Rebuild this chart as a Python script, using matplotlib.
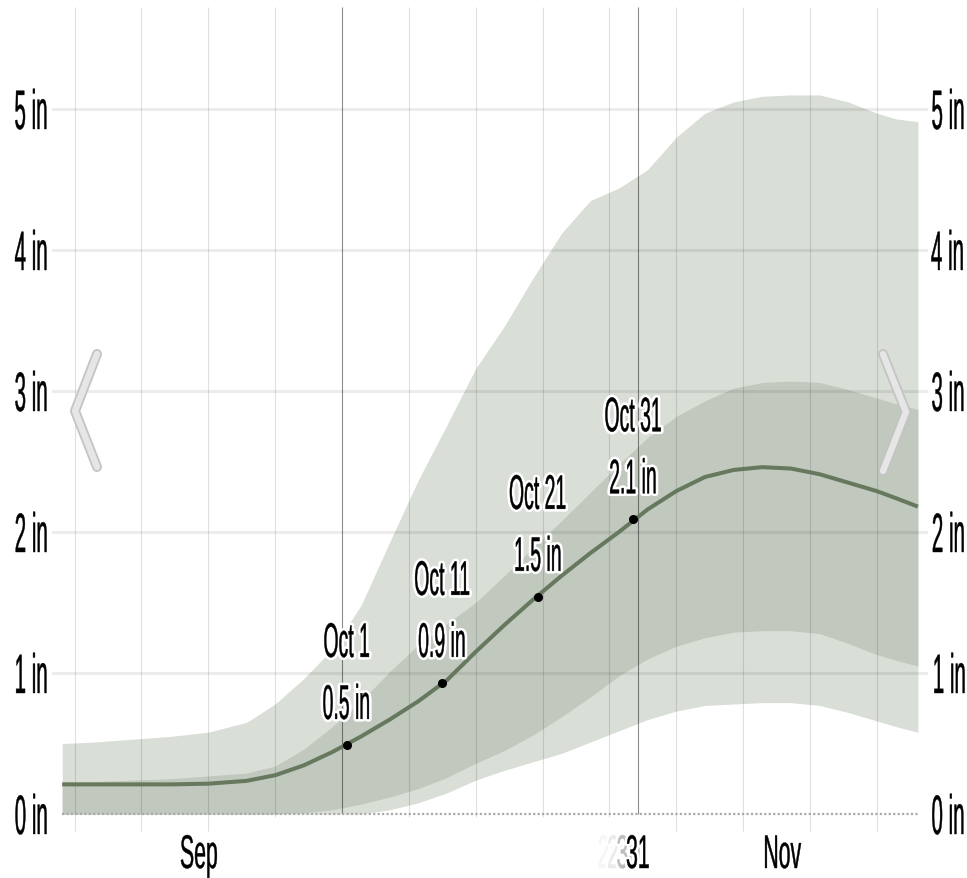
import matplotlib
matplotlib.use('Agg')
import matplotlib.pyplot as plt
from matplotlib.patheffects import AbstractPathEffect
from matplotlib.transforms import Affine2D
from matplotlib.colors import to_rgba
from matplotlib.lines import Line2D

plt.rcParams['font.family'] = ['Liberation Sans', 'DejaVu Sans']

# day offsets counted from the start of Oct 1, rainfall in inches (31-day sliding sum)
days = [-29.3, -26, -22, -18, -14, -10, -7, -4, -1, 2, 5, 8, 11, 14, 17,
        20, 23, 26, 29, 32, 35, 38, 41, 44, 47, 50, 53, 56, 58, 60.3]
p90 = [0.50, 0.51, 0.53, 0.55, 0.58, 0.65, 0.78, 0.96, 1.17, 1.48, 1.93, 2.37, 2.76, 3.16, 3.46,
       3.80, 4.12, 4.35, 4.44, 4.57, 4.80, 4.97, 5.05, 5.09, 5.10, 5.10, 5.05, 4.97, 4.93, 4.91]
p75 = [0.23, 0.23, 0.24, 0.25, 0.27, 0.29, 0.34, 0.46, 0.62, 0.80, 1.01, 1.20, 1.35, 1.50, 1.69,
       1.89, 2.08, 2.28, 2.48, 2.67, 2.82, 2.93, 3.02, 3.06, 3.07, 3.06, 3.01, 2.95, 2.91, 2.87]
median = [0.21, 0.21, 0.21, 0.21, 0.215, 0.235, 0.275, 0.345, 0.44, 0.55, 0.67, 0.80, 0.95, 1.15, 1.34,
          1.52, 1.69, 1.85, 2.00, 2.16, 2.29, 2.39, 2.44, 2.46, 2.45, 2.41, 2.35, 2.29, 2.24, 2.18]
p25 = [0, 0, 0, 0, 0, 0, 0, 0.01, 0.03, 0.07, 0.12, 0.18, 0.26, 0.36, 0.45,
       0.56, 0.69, 0.83, 0.98, 1.10, 1.19, 1.25, 1.29, 1.30, 1.30, 1.28, 1.21, 1.13, 1.09, 1.05]
p10 = [0, 0, 0, 0, 0, 0, 0, 0, 0, 0, 0.03, 0.08, 0.15, 0.24, 0.31,
       0.37, 0.43, 0.51, 0.59, 0.67, 0.73, 0.77, 0.78, 0.79, 0.79, 0.77, 0.72, 0.66, 0.62, 0.58]

ann_days = [0.5, 10.5, 20.5, 30.5]
ann_vals = [0.49, 0.93, 1.54, 2.09]
ann_dates = ['Oct 1', 'Oct 11', 'Oct 21', 'Oct 31']

y_ticks = [0, 1, 2, 3, 4, 5]
x_label_pos = [-15, 28, 29, 30, 31, 46]
x_labels = ['Sep', '28', '29', '30', '31', 'Nov']
x_label_colors = ['black', '#f6f6f6', '#ebebeb', '#bdbdbd', 'black', 'black']
grid_long = [-28, -21, -14, 35, 42, 49, 56]
grid_short = [-7, 7, 14, 21, 28]
month_marks = [0, 31]


class Squeeze(AbstractPathEffect):
    """Draw text glyphs narrowed horizontally, optionally with a halo."""

    def __init__(self, sx, anchor='center', halo=0, halo_color='white', weight=0.3):
        super().__init__()
        self.sx = sx
        self.anchor = anchor
        self.halo = halo
        self.halo_rgba = to_rgba(halo_color)
        self.weight = weight

    def draw_path(self, renderer, gc, tpath, affine, rgbFace=None):
        bb = tpath.get_extents(affine)
        if self.anchor == 'left':
            cx = bb.x0
        elif self.anchor == 'right':
            cx = bb.x1
        else:
            cx = (bb.x0 + bb.x1) / 2
        aff = affine + Affine2D().translate(-cx, 0).scale(self.sx, 1).translate(cx, 0)
        if self.halo:
            gc0 = renderer.new_gc()
            gc0.copy_properties(gc)
            gc0.set_foreground(self.halo_rgba)
            gc0.set_linewidth(self.halo)
            gc0.set_joinstyle('round')
            renderer.draw_path(gc0, tpath, aff, self.halo_rgba)
            gc0.restore()
        gc1 = renderer.new_gc()
        gc1.copy_properties(gc)
        if rgbFace is not None:
            gc1.set_foreground(rgbFace)
        gc1.set_linewidth(self.weight)
        gc1.set_joinstyle('round')
        renderer.draw_path(gc1, tpath, aff, rgbFace)
        gc1.restore()


W, H = 967, 879
fig = plt.figure(figsize=(W / 100, H / 100), dpi=100)
ax = fig.add_axes([52 / W, 44 / H, 876 / W, 827 / H])

# pixel scale of the original chart
px_day, x0 = 9.55, 342
px_in, y0 = 141, 815
ax.set_xlim((52 - x0) / px_day, (928 - x0) / px_day)
ax.set_ylim((y0 - 835) / px_in, (y0 - 8) / px_in)
ytop = ax.get_ylim()[1]

ax.fill_between(days, p10, p90, color='#d9ded7', lw=0, zorder=1)
ax.fill_between(days, p25, p75, color='#c1c8be', lw=0, zorder=1.1)

for y in y_ticks[1:]:
    ax.axhline(y, color='black', alpha=0.075, lw=2.2, zorder=2)
ax.vlines(grid_long, -0.12, ytop, colors=[(0, 0, 0, 0.12)], lw=0.8, zorder=2)
ax.vlines(grid_short, -0.02, ytop, colors=[(0, 0, 0, 0.12)], lw=0.8, zorder=2)
ax.vlines(month_marks, 0, ytop, colors=[(0, 0, 0, 0.45)], lw=0.8, zorder=2)
ax.hlines(0, days[0], days[-1], colors='#aaaaaa', linestyles=(0, (1, 1)), lw=1.6, zorder=2.5)

ax.plot(days, median, color='#66785e', lw=2.9, zorder=3, solid_capstyle='butt')
ax.plot(ann_days, ann_vals, 'o', color='black', ms=5.5, zorder=4)

for d, v, lab in zip(ann_days, ann_vals, ann_dates):
    ax.annotate(f'{v:.1f} in', (d, v), xytext=(0, 26), textcoords='offset pixels',
                ha='center', va='baseline', fontsize=35, zorder=5,
                path_effects=[Squeeze(0.40, 'center', 4)])
    ax.annotate(lab, (d, v), xytext=(0, 88), textcoords='offset pixels',
                ha='center', va='baseline', fontsize=35, zorder=5,
                path_effects=[Squeeze(0.40, 'center', 4)])

ax.set_yticks(y_ticks, [f'{t} in' for t in y_ticks])
ax.tick_params(axis='y', length=0, labelsize=40, pad=1.5, labelleft=True, labelright=True)
for t in ax.yaxis.get_major_ticks():
    t.label1.set_path_effects([Squeeze(0.37, 'right')])
    t.label2.set_path_effects([Squeeze(0.37, 'left')])

ax.set_xticks(x_label_pos, x_labels)
ax.tick_params(axis='x', length=0, labelsize=34, pad=0)
for t, c in zip(ax.xaxis.get_major_ticks(), x_label_colors):
    t.label1.set_color(c)
    t.label1.set_path_effects([Squeeze(0.45, 'center', 4)])

for s in ax.spines.values():
    s.set_visible(False)

# slider arrows at both sides
chevrons = [[(97, 355), (75, 412), (97, 468)], [(883, 355), (906, 413), (883, 472)]]
for pts in chevrons:
    xs = [p[0] / W for p in pts]
    ys = [1 - p[1] / H for p in pts]
    for col, lw in (('#c4c4c4', 7.2), ('#e6e6e6', 4.6)):
        fig.add_artist(Line2D(xs, ys, transform=fig.transFigure, color=col, lw=lw,
                              solid_capstyle='round', solid_joinstyle='round', zorder=10))

fig.savefig('out.png', dpi=100)
